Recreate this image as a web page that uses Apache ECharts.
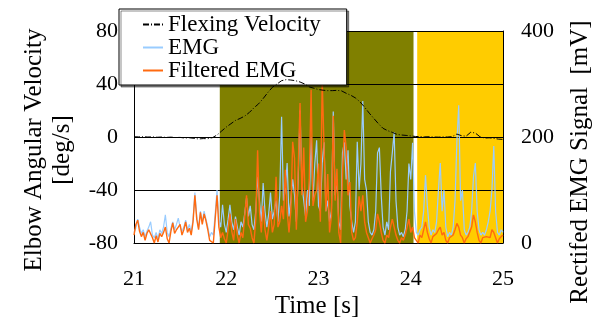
<!DOCTYPE html>
<html>
<head>
<meta charset="utf-8">
<script src="https://cdn.jsdelivr.net/npm/echarts@6/dist/echarts.min.js"></script>
<style>html,body{margin:0;padding:0;background:#fff;}#c{width:595px;height:320px;}</style>
</head>
<body>
<div id="c"></div>
<script>
// Sampling grids (seconds)
const emgStart = 21, emgStep = 0.02;
const velStart = 21, velStep = 0.05;

// Flexing velocity [deg/s], every 0.05 s from 21 to 25
const velocity = [
 0.2,0.1,0.2,0.0,0.1,-0.2,0.0,-0.3,-0.1,-0.4,
 -0.3,-0.8,-0.6,-1.0,-1.5,-1.2,-1.3,-0.5,1.5,4.5,
 7.5,10.0,12.5,14.0,15.8,18.5,22.0,25.0,29.0,33.5,
 37.5,40.0,42.5,43.3,43.0,42.5,41.5,40.0,37.8,36.8,
 35.8,35.3,35.0,35.0,35.2,34.8,33.0,31.5,29.5,26.5,
 22.5,18.0,14.0,10.0,6.5,4.8,3.5,2.0,1.5,1.2,
 0.8,0.4,0.3,0.1,0.2,0.0,-0.1,0.1,0.0,0.3,
 2.2,1.0,0.6,3.6,3.0,0.2,-0.8,-0.6,-1.0,-1.6,
 -1.8
];

// Rectified EMG [mV], every 0.02 s from 21 to 25
const emg = [
 20,28,45,30,18,25,12,22,30,40,
 15,10,20,8,25,18,30,53,20,12,
 28,40,25,35,47,30,22,30,43,25,
 35,20,45,95,50,28,60,40,60,45,
 30,12,20,15,55,100,45,30,72,35,
 20,45,72,40,25,50,30,15,40,30,
 55,85,50,70,35,25,60,125,80,40,
 113,60,30,55,95,45,60,80,40,90,
 238,80,100,151,50,80,120,90,40,120,
 250,110,80,50,100,70,200,80,150,194,
 70,60,150,190,60,80,40,60,248,90,
 120,40,25,170,190,120,175,70,40,20,
 40,191,100,150,268,120,100,40,20,15,
 25,60,170,180,90,30,15,40,25,135,
 170,209,80,30,15,20,12,25,60,150,
 120,189,60,20,15,25,30,60,128,70,
 30,15,25,20,40,100,151,60,100,30,
 12,20,15,30,80,191,260,80,100,25,
 15,20,30,60,125,151,60,25,15,20,
 15,25,40,60,100,183,60,20,15,25,
 20
];

// Filtered EMG [mV], every 0.02 s from 21 to 25
const filteredEmg = [
 15,35,43,22,12,20,5,18,25,28,
 10,0,14,2,18,12,20,30,8,0,
 22,38,18,25,30,35,15,25,40,20,
 28,15,40,90,45,25,58,35,55,42,
 25,5,8,0,45,90,30,10,20,8,
 0,25,55,22,5,45,15,0,20,10,
 50,90,35,28,10,0,45,175,60,20,
 70,25,5,30,60,20,35,125,30,40,
 70,45,138,60,20,60,191,160,25,140,
 264,90,180,40,60,120,289,70,90,100,
 150,40,308,180,60,130,20,50,240,80,
 140,20,0,130,213,180,90,115,20,5,
 10,40,88,60,90,40,20,10,0,8,
 15,25,55,40,20,5,0,15,10,30,
 45,30,15,5,0,10,5,15,30,45,
 20,30,10,5,0,15,10,25,40,20,
 8,0,12,10,18,25,30,15,20,5,
 0,10,8,15,25,37,30,15,10,0,
 8,12,15,30,53,40,20,5,0,10,
 8,12,15,10,25,20,10,0,8,12,
 15
];

// Shaded phases [start, end] in seconds
const phaseFlex = [21.93, 24.03];
const phaseRest = [24.07, 25];

const seriesNames = ['Flexing Velocity', 'EMG', 'Filtered EMG'];

const FONT = 'Liberation Serif';
const pairs = (arr, start, step) => arr.map((v, i) => [+(start + i * step).toFixed(3), v]);
const tickLabel = (margin) => ({margin: margin, fontFamily: FONT, fontSize: 22, color: '#000'});

const chart = echarts.init(document.getElementById('c'), null, {renderer: 'canvas'});
chart.setOption({
  animation: false,
  backgroundColor: '#fff',
  textStyle: {fontFamily: FONT, color: '#000'},
  grid: {left: 134, right: 92, top: 31, bottom: 77, containLabel: false, outerBoundsMode: 'none'},
  legend: {
    data: seriesNames,
    orient: 'vertical',
    left: 119, top: 9,
    backgroundColor: '#fff',
    borderColor: '#000', borderWidth: 1,
    shadowColor: 'rgba(0,0,0,0.45)', shadowOffsetX: 2, shadowOffsetY: 2, shadowBlur: 0,
    padding: [4, 26, 3, 23],
    itemGap: 0, itemWidth: 20, itemHeight: 14,
    itemStyle: {opacity: 0},
    textStyle: {fontFamily: FONT, fontSize: 23, lineHeight: 21, color: '#000'}
  },
  xAxis: {
    type: 'value', min: 21, max: 25, interval: 1,
    axisLine: {show: true, onZero: false, lineStyle: {color: '#000', width: 1}},
    axisTick: {show: false},
    splitLine: {show: false},
    axisLabel: tickLabel(25)
  },
  yAxis: [
    {
      type: 'value', min: -80, max: 80, interval: 40,
      axisLine: {show: true, lineStyle: {color: '#000', width: 1}},
      axisTick: {show: false},
      splitLine: {show: true, lineStyle: {color: '#000', width: 1}},
      axisLabel: tickLabel(16)
    },
    {
      type: 'value', min: 0, max: 400, interval: 200,
      axisLine: {show: true, lineStyle: {color: '#000', width: 1}},
      axisTick: {show: false},
      splitLine: {show: false},
      axisLabel: tickLabel(18)
    }
  ],
  graphic: [
    {type: 'text', x: 48, y: 150, rotation: Math.PI / 2,
      style: {text: 'Elbow Angular Velocity\n[deg/s]', fontFamily: FONT, fontSize: 25, lineHeight: 28,
        fill: '#000', align: 'center', verticalAlign: 'middle'}},
    {type: 'text', x: 580, y: 162, rotation: Math.PI / 2,
      style: {text: 'Rectifed EMG Signal  [mV]', fontFamily: FONT, fontSize: 25,
        fill: '#000', align: 'center', verticalAlign: 'middle'}},
    {type: 'text', x: 317, y: 306,
      style: {text: 'Time [s]', fontFamily: FONT, fontSize: 25,
        fill: '#000', align: 'center', verticalAlign: 'middle'}}
  ],
  series: [
    {
      name: 'Flexing Velocity', type: 'line', yAxisIndex: 0, z: 4,
      showSymbol: false, symbol: 'none',
      lineStyle: {color: '#000', width: 1, type: [6, 2, 1, 2]},
      itemStyle: {color: '#000'},
      data: pairs(velocity, velStart, velStep),
      markArea: {
        silent: true, z: -1,
        data: [
          [{xAxis: phaseFlex[0], itemStyle: {color: '#808000', opacity: 1}}, {xAxis: phaseFlex[1]}],
          [{xAxis: phaseRest[0], itemStyle: {color: '#FFCC00', opacity: 1}}, {xAxis: phaseRest[1]}]
        ]
      }
    },
    {
      name: 'EMG', type: 'line', yAxisIndex: 1, z: 2,
      showSymbol: false, symbol: 'none',
      lineStyle: {color: '#99CCFF', width: 1.2},
      itemStyle: {color: '#99CCFF'},
      data: pairs(emg, emgStart, emgStep)
    },
    {
      name: 'Filtered EMG', type: 'line', yAxisIndex: 1, z: 3,
      showSymbol: false, symbol: 'none',
      lineStyle: {color: '#FF6A10', width: 1.4},
      itemStyle: {color: '#FF6A10'},
      data: pairs(filteredEmg, emgStart, emgStep)
    }
  ]
});
</script>
</body>
</html>
